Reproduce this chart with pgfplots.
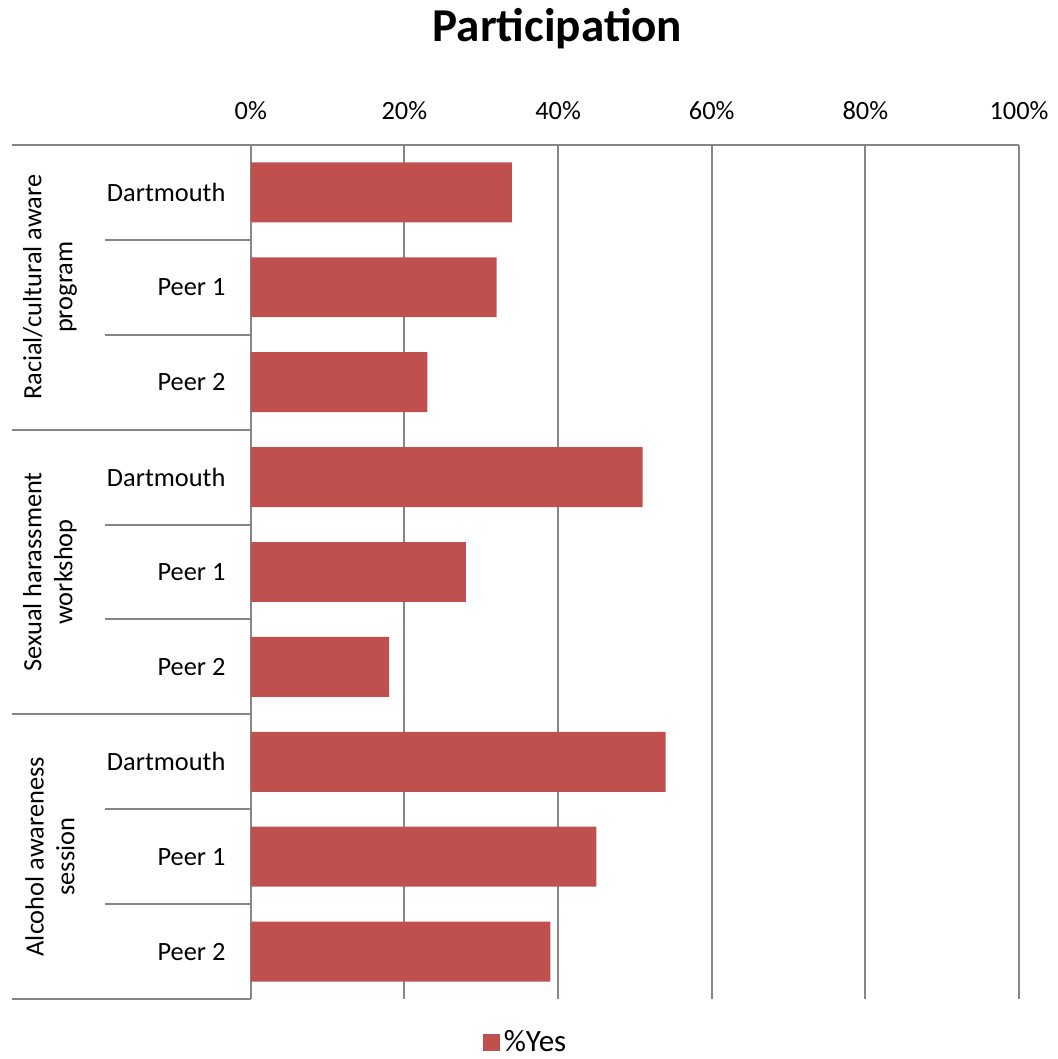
\documentclass[border=0pt]{standalone}
\usepackage{fontspec}
\setmainfont{Carlito}
\usepackage{pgfplots}
\pgfplotsset{compat=1.18}
\definecolor{barred}{RGB}{192,80,77}
\definecolor{axgray}{RGB}{134,134,134}
\newcommand{\lbl}{\fontsize{13.2}{15.5}\selectfont}
\begin{document}
\begin{tikzpicture}
\useasboundingbox (-125.5pt,-30pt) rectangle (404pt,500pt);
\begin{axis}[
    at={(0,0)}, anchor=south west,
    scale only axis,
    width=384.5pt, height=427.5pt,
    xbar, bar width=30pt,
    xmin=0, xmax=100,
    ymin=0.5, ymax=9.5,
    y dir=reverse,
    axis x line*=top, axis y line*=left,
    axis line style={draw=axgray, line width=1pt},
    xtick={0,20,40,60,80,100},
    xticklabels={0\%,20\%,40\%,60\%,80\%,100\%},
    ytick={1,...,9},
    yticklabels={Dartmouth,Peer 1,Peer 2,Dartmouth,Peer 1,Peer 2,Dartmouth,Peer 1,Peer 2},
    major tick length=0pt,
    xmajorgrids,
    grid style={draw=axgray, line width=1pt},
    xticklabel style={font=\lbl, anchor=south, inner sep=0pt, yshift=12.5pt},
    yticklabel style={font=\lbl, anchor=east, inner sep=0pt, xshift=-12.5pt},
    legend style={at={(0.359,-0.051)}, anchor=center, draw=none,
        font=\fontsize{15.5}{18}\selectfont, inner sep=1pt,
        /tikz/every even column/.append style={column sep=5pt}},
    legend image code/.code={\fill[barred] (0pt,-4pt) rectangle (8.5pt,4.5pt);},
    clip=false,
]
\addplot[fill=barred, draw=none] coordinates {
    (34,1) (32,2) (23,3)
    (51,4) (28,5) (18,6)
    (54,7) (45,8) (39,9)
};
\addlegendentry{\%Yes}
% category separators
\foreach \yy in {1.5,2.5,4.5,5.5,7.5,8.5}{
    \edef\temp{\noexpand\draw[axgray, line width=1pt] ([xshift=-73pt]axis cs:0,\yy) -- (axis cs:0,\yy);}
    \temp
}
\foreach \yy in {0.5,3.5,6.5,9.5}{
    \edef\temp{\noexpand\draw[axgray, line width=1pt] ([xshift=-119.5pt]axis cs:0,\yy) -- (axis cs:0,\yy);}
    \temp
}
\node[rotate=90, align=center, font=\lbl, inner sep=0pt] at ([xshift=-100.5pt]axis cs:0,2) {Racial/cultural aware\\program};
\node[rotate=90, align=center, font=\lbl, inner sep=0pt] at ([xshift=-100.5pt]axis cs:0,5) {Sexual harassment\\workshop};
\node[rotate=90, align=center, font=\lbl, inner sep=0pt] at ([xshift=-100.5pt]axis cs:0,8) {Alcohol awareness\\session};
\end{axis}
\node[anchor=base, font=\fontsize{23.6}{28}\selectfont\bfseries, inner sep=0pt] at (153.5pt,479pt) {Participation};
\end{tikzpicture}
\end{document}
